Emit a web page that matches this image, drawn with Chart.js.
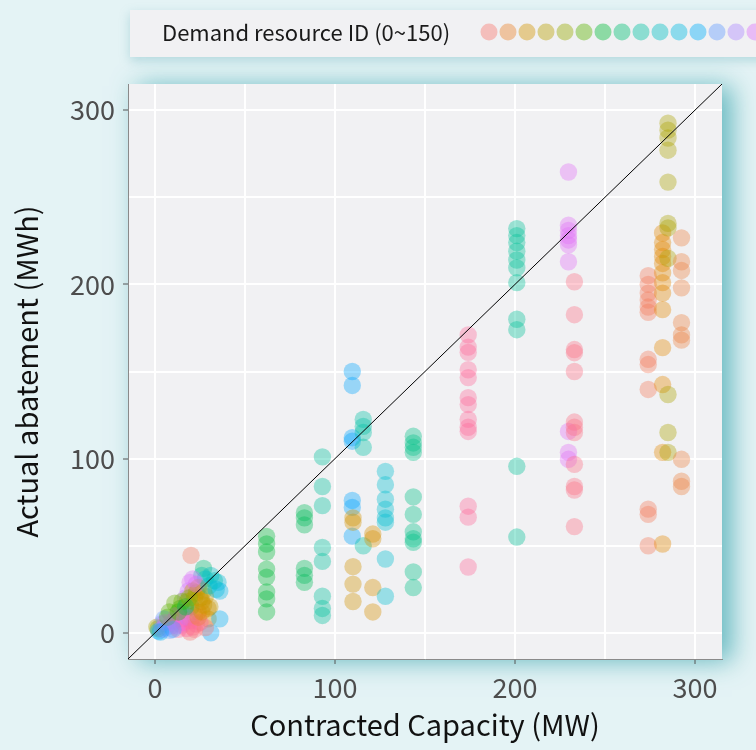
<!DOCTYPE html>
<html>
<head>
<meta charset="utf-8">
<script src="https://cdn.jsdelivr.net/npm/chart.js@4.4.1/dist/chart.umd.min.js"></script>
<style>
  body { margin: 0; background: #e4f3f5; }
  canvas { display: block; }
</style>
</head>
<body>
<canvas id="dr-chart" width="756" height="750"></canvas>
<script>
// contracted capacity (MW), actual abatement (MWh), demand resource id
const capacity = [
  20, 27, 26, 28, 35, 36, 33, 19.5, 18.5, 17, 23, 26, 24, 11, 14, 8, 29.5, 29.5, 31, 36,
  3.7, 11, 14.8, 8.3, 19.5, 21, 1, 1.7, 16.7, 30.5, 17.6, 5, 12, 22, 25, 20, 9, 2, 15, 18,
  22, 24, 27, 6, 13,
  4, 6, 9, 12, 16, 18, 20, 23, 22, 24, 26, 27, 25, 28, 21, 15, 13, 17, 19, 23,
  21, 30, 31, 34, 7, 10, 3, 28,
  62, 62, 62, 62, 62, 62, 62, 62,
  83, 83, 83, 83, 83, 83,
  93, 93, 93, 93, 93, 93, 93, 93,
  109.6, 109.6, 109.6, 109.6, 109.6, 109.6, 109.6,
  110, 110, 110, 110, 110,
  115.7, 115.7, 115.7, 115.7, 115.7,
  121, 121, 121, 121,
  128, 128, 128, 128, 128, 128, 128, 128,
  143.5, 143.5, 143.5, 143.5, 143.5, 143.5, 143.5, 143.5, 143.5, 143.5, 143.5,
  174, 174, 174, 174, 174, 174, 174, 174, 174, 174, 174, 174, 174,
  201, 201, 201, 201, 201, 201, 201, 201, 201, 201, 201,
  229.7, 229.7, 229.7, 229.7, 229.7, 229.7, 229.7, 229.7, 229.7, 229.7,
  233, 233, 233, 233, 233, 233, 233, 233, 233, 233, 233, 233,
  274, 274, 274, 274, 274, 274, 274, 274, 274, 274, 274, 274,
  282, 282, 282, 282, 282, 282, 282, 282, 282, 282, 282, 282, 282,
  285, 285, 285, 285, 285, 285, 285, 285, 285, 285, 285,
  292.5, 292.5, 292.5, 292.5, 292.5, 292.5, 292.5, 292.5, 292.5, 292.5
];
const abatement = [
  44.5, 37, 33, 31, 29, 24, 30, 29, 24, 20, 23, 18, 26, 17, 14, 12, 14, 8, 0, 8,
  5.3, 7, 4.3, 1.5, 0.5, 3.3, 3.3, 2.4, 12.8, 15, 2.5, 8, 10, 10, 6, 15, 4, 1, 8, 18,
  20, 12, 24, 6, 2,
  2, 3, 6, 4, 6, 9, 7, 5, 2, 9, 12, 16, 20, 21, 24, 18, 12, 15, 20, 28,
  31, 27, 33, 25, 9, 2, 0.5, 3,
  55.4, 51, 46.4, 36.6, 32, 23.5, 19.5, 12,
  69, 66, 62, 37, 33, 29,
  101, 84, 73, 49, 41, 21, 14, 10,
  150, 142, 112, 110, 76, 72, 55.5,
  66, 63.5, 38, 28, 18,
  122.5, 118.5, 115, 106.5, 50,
  56.7, 54, 26, 12,
  92.7, 85, 76.7, 71, 66, 63.5, 42.4, 21,
  112.8, 109, 106.5, 103.6, 78, 68, 58, 54, 52, 35, 26,
  171, 164, 161, 151, 146.5, 135, 131, 122.5, 118, 115.6, 72.7, 66.4, 37.8,
  232, 228, 224, 219, 214, 209.5, 201, 180, 174, 95.6, 55,
  264.5, 234, 231, 228, 225.5, 222.7, 213, 115.6, 103.6, 99.6,
  201.5, 182.6, 162.6, 160.8, 150, 121, 118, 115, 96.7, 84, 82, 61,
  205, 200, 195, 191, 187, 184, 157, 154, 139.7, 71, 68, 50,
  229.5, 224, 220, 216, 212, 206.6, 201, 195, 185.5, 163.7, 142.5, 103.6, 51,
  292.5, 288.5, 284, 277, 258.7, 235, 232.4, 215, 136.8, 115, 103.6,
  226.7, 213, 208, 198, 178, 171, 168, 99.6, 87, 84
];
const resourceId = [
  2, 58, 67, 77, 80, 85, 70, 118, 115, 112, 30, 18, 20, 40, 45, 42, 15, 17, 95, 90,
  110, 108, 112, 100, 0, 145, 28, 35, 120, 22, 140, 100, 125, 12, 138, 50, 105, 92, 3, 33,
  24, 14, 26, 115, 142,
  112, 105, 118, 122, 130, 110, 135, 142, 146, 8, 14, 20, 22, 18, 24, 40, 46, 52, 36, 120,
  116, 72, 75, 82, 44, 98, 90, 150,
  50, 50, 50, 50, 50, 50, 50, 50,
  54, 54, 54, 54, 54, 54,
  66, 66, 66, 66, 66, 66, 66, 66,
  96, 96, 96, 96, 96, 96, 96,
  17, 17, 17, 17, 17,
  68, 68, 68, 68, 68,
  16, 16, 16, 16,
  78, 78, 78, 78, 78, 78, 78, 78,
  62, 62, 62, 62, 62, 62, 62, 62, 62, 62, 62,
  142, 142, 142, 142, 142, 142, 142, 142, 142, 142, 142, 142, 142,
  65, 65, 65, 65, 65, 65, 65, 65, 65, 65, 65,
  118, 118, 118, 118, 118, 118, 118, 118, 118, 118,
  146, 146, 146, 146, 146, 146, 146, 146, 146, 146, 146, 146,
  3, 3, 3, 3, 3, 3, 3, 3, 3, 3, 3, 3,
  10, 10, 10, 10, 10, 10, 10, 10, 10, 10, 10, 10, 10,
  28, 28, 28, 28, 28, 28, 28, 28, 28, 28, 28,
  6, 6, 6, 6, 6, 6, 6, 6, 6, 6
];
const legendIds = [0, 8, 17, 25, 33, 42, 50, 58, 67, 75, 83, 92, 100, 108, 117, 125, 133, 142, 150];
const gridValues = [0, 50, 100, 150, 200, 250, 300];
const axisRange = [-15, 315];

const FONT = "'Noto Sans CJK JP', 'Noto Sans', sans-serif";

// polar LUV colour, the same thing R's hcl() gives
function hcl(h, c, l, a) {
  const hr = h * Math.PI / 180;
  const u = c * Math.cos(hr), v = c * Math.sin(hr);
  const un = 0.19784, vn = 0.46834;
  const Y = l > 8 ? Math.pow((l + 16) / 116, 3) : l / 903.3;
  const up = u / (13 * l) + un, vp = v / (13 * l) + vn;
  const X = Y * 9 * up / (4 * vp);
  const Z = Y * (12 - 3 * up - 20 * vp) / (4 * vp);
  const r = 3.2406 * X - 1.5372 * Y - 0.4986 * Z;
  const g = -0.9689 * X + 1.8758 * Y + 0.0415 * Z;
  const b = 0.0557 * X - 0.2040 * Y + 1.0570 * Z;
  const gam = t => {
    t = t <= 0.0031308 ? 12.92 * t : 1.055 * Math.pow(t, 1 / 2.4) - 0.055;
    return Math.round(255 * Math.min(1, Math.max(0, t)));
  };
  return `rgba(${gam(r)},${gam(g)},${gam(b)},${a})`;
}
const idColor = (id, a) => hcl(15 + id * 2.4, 100, 65, a);

const points = capacity.map((x, i) => ({ x: x, y: abatement[i] }));

// grey panel with a teal glow behind it, and the legend strip on top
const panelPlugin = {
  id: 'panel',
  beforeDraw(chart) {
    const { ctx, chartArea: a } = chart;
    ctx.save();
    ctx.shadowColor = 'rgba(60,165,175,0.75)';
    ctx.shadowBlur = 24;
    ctx.shadowOffsetX = 10;
    ctx.shadowOffsetY = 2;
    ctx.fillStyle = '#f1f1f3';
    ctx.fillRect(a.left, a.top, a.right - a.left, a.bottom - a.top);
    ctx.restore();

    ctx.save();
    ctx.shadowColor = 'rgba(90,170,180,0.35)';
    ctx.shadowBlur = 10;
    ctx.shadowOffsetY = 4;
    ctx.fillStyle = '#f1f1f3';
    ctx.fillRect(130, 10, 660, 47);
    ctx.restore();

    ctx.save();
    ctx.fillStyle = '#1a1a1a';
    ctx.font = `22px ${FONT}`;
    ctx.textBaseline = 'middle';
    ctx.fillText('Demand resource ID (0~150)', 162, 33);
    legendIds.forEach((id, k) => {
      ctx.beginPath();
      ctx.arc(489 + k * 19, 32, 8.5, 0, Math.PI * 2);
      ctx.fillStyle = idColor(id, 0.42);
      ctx.fill();
    });
    ctx.restore();
  }
};

const tickColor = c => (c.tick && c.tick.value % 100 === 0) ? '#555555' : 'rgba(0,0,0,0)';

function axisOpts(title, fit) {
  return {
    type: 'linear',
    min: axisRange[0],
    max: axisRange[1],
    afterBuildTicks: s => { s.ticks = gridValues.map(v => ({ value: v })); },
    afterFit: fit,
    grid: { color: '#ffffff', lineWidth: 2, tickLength: 5, tickColor: tickColor, tickWidth: 1 },
    border: { display: true, color: '#8a8a8a', width: 1 },
    ticks: {
      color: '#4d4d4d',
      font: { family: FONT, size: 27 },
      padding: 8,
      autoSkip: false,
      maxRotation: 0,
      callback: v => v % 100 === 0 ? String(v) : ''
    },
    title: { display: true, text: title, color: '#111111', font: { family: FONT, size: 29 }, padding: 0 }
  };
}

new Chart(document.getElementById('dr-chart'), {
  data: {
    datasets: [
      {
        type: 'line',
        data: [{ x: axisRange[0], y: axisRange[0] }, { x: axisRange[1], y: axisRange[1] }],
        borderColor: '#000000',
        borderWidth: 1,
        pointRadius: 0,
        order: 0
      },
      {
        type: 'scatter',
        data: points,
        backgroundColor: resourceId.map(id => idColor(id, 0.37)),
        borderWidth: 0,
        pointRadius: 8.7,
        order: 1
      }
    ]
  },
  options: {
    responsive: false,
    animation: false,
    layout: { padding: { top: 84, right: 34, left: 10, bottom: 8 } },
    plugins: { legend: { display: false }, tooltip: { enabled: false } },
    scales: {
      x: axisOpts('Contracted Capacity (MW)', s => { s.height = 750 - 659 - 8; }),
      y: axisOpts('Actual abatement (MWh)', s => { s.width = 128 - 10; })
    }
  },
  plugins: [panelPlugin]
});
</script>
</body>
</html>
